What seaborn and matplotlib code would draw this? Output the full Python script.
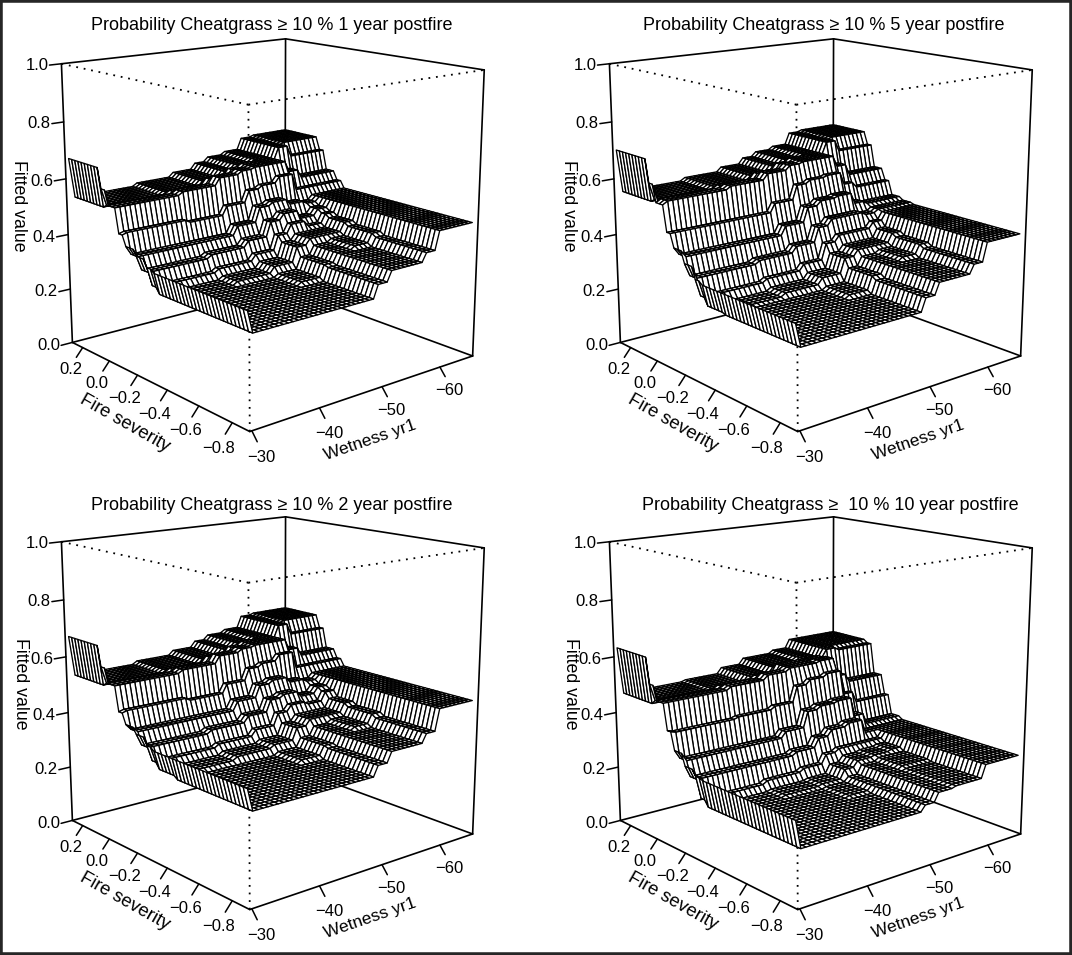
import numpy as np
import matplotlib
matplotlib.use("Agg")
import matplotlib.pyplot as plt
import seaborn as sns
from matplotlib.patches import Rectangle
from mpl_toolkits.mplot3d import proj3d

sns.set_theme(style="white", rc={"text.color": "black"})
plt.rcParams['font.family'] = ['Liberation Sans', 'DejaVu Sans']

# steps of the fitted surface
wetness_steps = [-30.5, -40.0, -46.0, -49.5, -52.0, -55.0, -57.4, -59.8]
fire_steps = [-0.58, -0.41, -0.30, -0.24, -0.17, -0.11, -0.05, 0.0, 0.056]

fitted_1yr = [
    [.375, .30, .30, .30, .345, .38, .38, .41, .475],
    [.375, .30, .30, .31, .35, .38, .39, .42, .475],
    [.375, .30, .31, .33, .38, .40, .40, .43, .475],
    [.385, .32, .33, .35, .40, .43, .41, .44, .475],
    [.41, .36, .37, .39, .44, .46, .43, .45, .475],
    [.43, .40, .40, .43, .48, .49, .47, .46, .475],
    [.465, .47, .46, .49, .53, .54, .56, .50, .50],
    [.55, .55, .56, .585, .595, .60, .60, .56, .53],
    [.60, .54, .55, .57, .59, .60, .60, .64, .60],
    [.67, .53, .54, .555, .575, .59, .60, .64, .645],
]
fitted_2yr = [
    [.375, .30, .30, .30, .335, .37, .37, .40, .475],
    [.375, .30, .30, .31, .34, .37, .38, .41, .475],
    [.375, .31, .32, .33, .37, .39, .39, .42, .475],
    [.385, .33, .34, .36, .40, .42, .41, .44, .475],
    [.41, .37, .38, .40, .44, .45, .43, .45, .475],
    [.43, .41, .41, .44, .48, .49, .47, .46, .475],
    [.465, .47, .46, .49, .53, .54, .56, .50, .50],
    [.55, .55, .56, .585, .595, .60, .60, .56, .53],
    [.60, .54, .55, .57, .59, .60, .60, .64, .60],
    [.67, .53, .54, .555, .575, .59, .60, .64, .645],
]
fitted_5yr = [
    [.335, .255, .255, .255, .30, .34, .34, .37, .435],
    [.335, .255, .255, .265, .31, .34, .35, .38, .435],
    [.335, .26, .27, .29, .34, .36, .36, .39, .435],
    [.345, .285, .295, .315, .37, .39, .39, .41, .435],
    [.385, .34, .35, .37, .42, .44, .44, .43, .44],
    [.425, .40, .40, .43, .48, .495, .50, .46, .45],
    [.47, .47, .47, .50, .55, .56, .565, .52, .50],
    [.56, .57, .58, .60, .615, .62, .62, .58, .54],
    [.62, .56, .57, .59, .61, .62, .62, .66, .62],
    [.70, .55, .56, .575, .595, .61, .62, .66, .665],
]
fitted_10yr = [
    [.275, .18, .18, .18, .20, .23, .235, .235, .28],
    [.275, .18, .18, .185, .20, .23, .24, .24, .28],
    [.275, .18, .185, .19, .22, .24, .245, .25, .28],
    [.28, .20, .21, .22, .25, .26, .26, .26, .28],
    [.30, .26, .26, .27, .30, .32, .33, .28, .28],
    [.34, .31, .31, .33, .385, .395, .40, .33, .29],
    [.40, .395, .40, .41, .465, .48, .49, .40, .36],
    [.49, .49, .50, .515, .525, .525, .53, .46, .43],
    [.54, .48, .49, .50, .525, .525, .525, .55, .54],
    [.63, .465, .47, .49, .51, .51, .52, .55, .55],
]

fire_ticks = [0.2, 0.0, -0.2, -0.4, -0.6, -0.8]
wetness_ticks = [-30, -40, -50, -60]
fitted_ticks = [0.0, 0.2, 0.4, 0.6, 0.8, 1.0]
titles = ["Probability Cheatgrass \u2265 10 % 1 year postfire",
          "Probability Cheatgrass \u2265 10 % 5 year postfire",
          "Probability Cheatgrass \u2265 10 % 2 year postfire",
          "Probability Cheatgrass \u2265  10 % 10 year postfire"]

W_MAX, W_MIN = -29.7, -66.0
F_MIN, F_MAX = -0.90, 0.28
FIG_W, FIG_H = 1072, 955


def minus(v, fmt):
    return (fmt % v).replace("-", "\u2212")


def label_3d(ax, x, y, z, s, **kw):
    # plain 2d text placed where the 3d point lands
    px, py, _ = proj3d.proj_transform(x, y, z, ax.get_proj())
    ax.text2D(px, py, s, transform=ax.transData, va="center", fontsize=12, **kw)


def draw_panel(fig, dx, dy, table, title, title_x, title_y, fitted_x):
    size = 490.9
    ax = fig.add_axes([(17.7 + dx) / FIG_W, (491.1 - dy) / FIG_H, size / FIG_W, size / FIG_H], projection="3d")
    ax.set_axis_off()
    ax.patch.set_alpha(0)
    ax.computed_zorder = False
    ax.set_xlim(W_MAX, W_MIN)
    ax.set_ylim(F_MIN, F_MAX)
    ax.set_zlim(0, 1)
    ax.view_init(14.79, -129.81)
    ax.set_proj_type("persp", focal_length=0.512)
    ax.set_box_aspect((1, 1.01, 1.004))

    # box, hidden edges first
    solid = dict(color="black", lw=1.2, solid_capstyle="round", zorder=1)
    dotted = dict(color="black", lw=1.3, ls=(0, (1, 3.2)), zorder=1)
    for a, b in [((W_MAX, F_MIN), (W_MIN, F_MIN)), ((W_MAX, F_MIN), (W_MAX, F_MAX)),
                 ((W_MIN, F_MIN), (W_MIN, F_MAX)), ((W_MAX, F_MAX), (W_MIN, F_MAX))]:
        ax.plot([a[0], b[0]], [a[1], b[1]], [0, 0], **solid)
    for w, f in [(W_MAX, F_MAX), (W_MIN, F_MAX), (W_MIN, F_MIN)]:
        ax.plot([w, w], [f, f], [0, 1], **solid)
    ax.plot([W_MAX, W_MIN], [F_MAX, F_MAX], [1, 1], **solid)
    ax.plot([W_MIN, W_MIN], [F_MAX, F_MIN], [1, 1], **solid)
    ax.plot([W_MAX, W_MAX], [F_MIN, F_MIN], [0, 1], **dotted)
    ax.plot([W_MAX, W_MAX], [F_MIN, F_MAX], [1, 1], **dotted)
    ax.plot([W_MAX, W_MIN], [F_MIN, F_MIN], [1, 1], **dotted)

    # surface: every mesh cell takes the value of its step
    wet = np.linspace(-30.2, W_MIN, 50)
    fire = np.linspace(-0.87, F_MAX, 50)
    col = np.searchsorted(-np.array(wetness_steps), -wet)
    row = np.searchsorted(fire_steps, fire)
    Z = np.array(table)[np.ix_(row, col)]
    X, Y = np.meshgrid(wet, fire)
    ax.plot_surface(X, Y, Z, rstride=1, cstride=1, color="white", edgecolor="black",
                    linewidth=0.95, shade=False, antialiased=True, zorder=2)

    # ticks and labels
    tick = dict(color="black", lw=1.1, zorder=1)
    for f in fire_ticks:
        ax.plot([W_MAX, W_MAX + 1.0], [f, f], [0, -0.03], **tick)
        label_3d(ax, W_MAX + 1.9, f, -0.07, minus(f, "%.1f"), ha="center")
    for w in wetness_ticks:
        ax.plot([w, w], [F_MIN, F_MIN - 0.03], [0, -0.027], **tick)
        label_3d(ax, w, F_MIN - 0.055, -0.07, minus(w, "%d"), ha="center")
    for z in fitted_ticks:
        ax.plot([W_MAX, W_MAX + 1.7], [F_MAX, F_MAX], [z, z], **tick)
        label_3d(ax, W_MAX + 1.85, F_MAX, z, "%.1f" % z, ha="right")
    fig.text((125 + dx) / FIG_W, 1 - (423 + dy) / FIG_H, "Fire severity", rotation=-29.5,
             rotation_mode="anchor", ha="center", va="center", fontsize=13.2)
    fig.text((370 + dx) / FIG_W, 1 - (440 + dy) / FIG_H, "Wetness yr1", rotation=19,
             rotation_mode="anchor", ha="center", va="center", fontsize=12.5)
    fig.text(fitted_x / FIG_W, 1 - (206 + dy) / FIG_H, "Fitted value", rotation=-90,
             rotation_mode="anchor", ha="center", va="center", fontsize=12.8)
    fig.text(title_x / FIG_W, 1 - title_y / FIG_H, title, ha="left", va="center", fontsize=13)


fig = plt.figure(figsize=(FIG_W / 100, FIG_H / 100), dpi=100, facecolor="white")
draw_panel(fig, 0, 0, fitted_1yr, titles[0], 91, 26, 18)
draw_panel(fig, 548, 0, fitted_5yr, titles[1], 643, 26, 568)
draw_panel(fig, 0, 478, fitted_2yr, titles[2], 91, 505, 20)
draw_panel(fig, 548, 478, fitted_10yr, titles[3], 642, 505, 570)
fig.add_artist(Rectangle((0, 0), 1, 1, transform=fig.transFigure, fill=False, ec="#262626", lw=4))
fig.savefig("out.png", dpi=100)
